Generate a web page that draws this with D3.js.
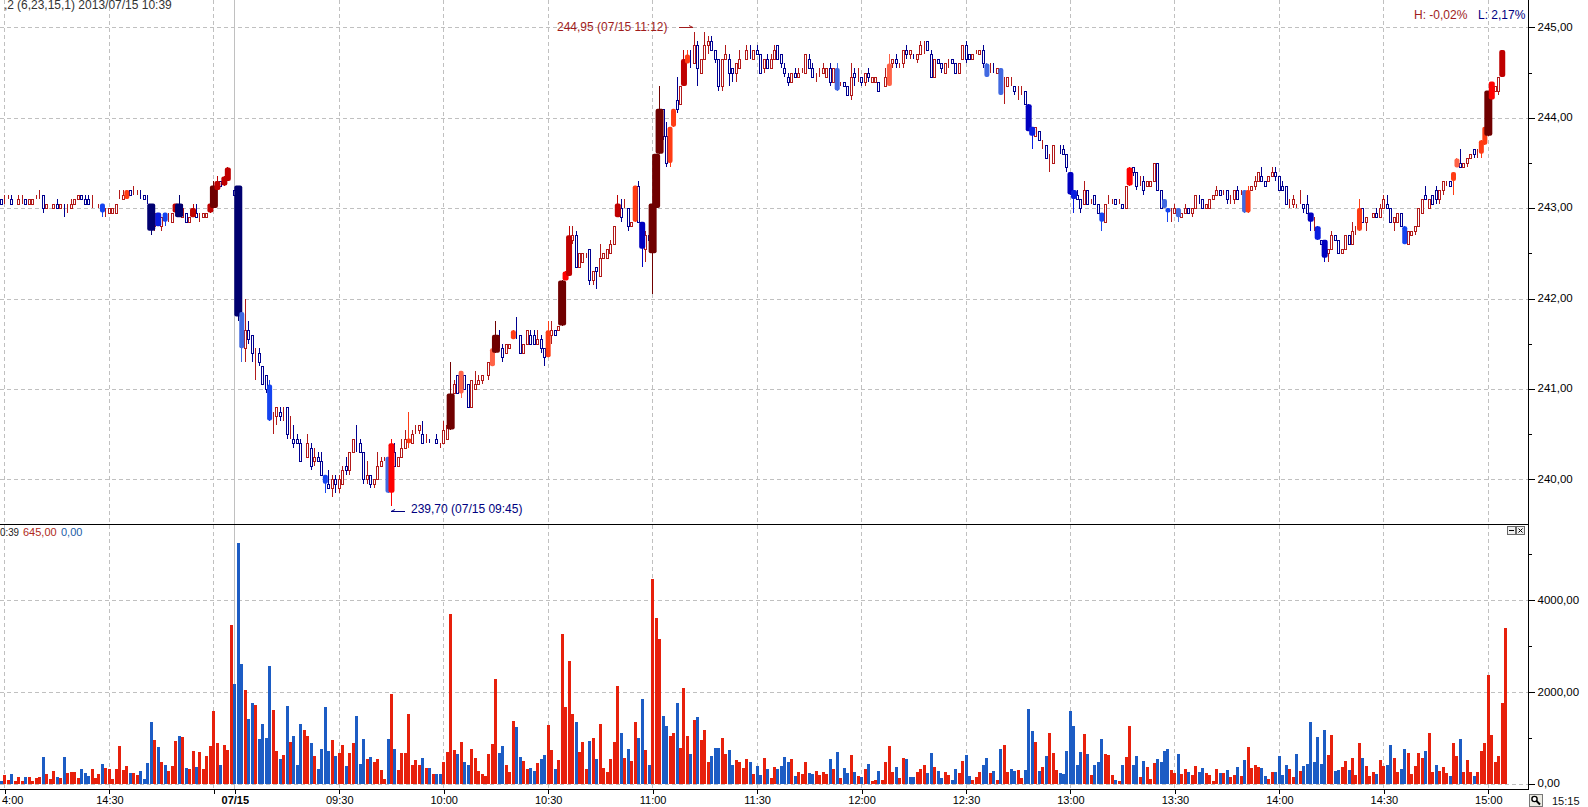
<!DOCTYPE html>
<html lang="en">

<head>
    <meta charset="UTF-8">
    <title>1 minute candles with volume</title>
    <script src="https://d3js.org/d3.v7.min.js"></script>
    <style>
        body {
            margin: 0;
            background-color: white;
            overflow: hidden;
        }

        svg {
            display: block;
        }

        text {
            font-family: 'Liberation Sans', Arial, sans-serif;
            font-size: 12px;
        }

        .grid {
            stroke: #c0c0c0;
            stroke-width: 1px;
            stroke-dasharray: 4 3;
            shape-rendering: crispEdges;
        }

        .axis path,
        .axis line {
            stroke: black;
            shape-rendering: crispEdges;
        }

        .axis text {
            fill: black;
            font-family: 'Liberation Sans', Arial, sans-serif;
            font-size: 11.5px;
        }

        .time-axis text {
            font-size: 11px;
        }

        .small-caption {
            font-size: 11px;
        }
    </style>
</head>

<body>
    <svg></svg>

    <script>
        const opens = [
            243.1,243.1,243.1,243.1,243.05,243.05,243.1,243.1,243.05,243.05,
            243.1,243.1,243.15,243,243.05,243,243.05,243,243,243,
            243,243.05,243.1,243.15,243.1,243.1,243.05,243.05,243.05,243.05,
            242.95,242.95,242.95,242.95,243.15,243.1,243.1,243.2,243.2,243.2,
            243.15,243.15,243.1,243.05,242.8,242.95,242.8,242.95,242.9,242.85,
            242.95,243.05,242.9,242.95,242.85,242.9,242.95,242.9,242.9,242.9,
            242.95,243,243.2,243.3,243.25,243.3,243.45,243.2,243.25,241.85,
            241.45,241.65,241.6,241.4,241.4,241.25,241.15,241.05,240.65,240.7,
            240.75,240.75,240.8,240.5,240.45,240.45,240.4,240.2,240.25,240.35,
            240.2,240.25,240.2,240.05,239.95,239.9,240,239.9,239.95,240.15,
            240.1,240.3,240.4,240.4,240.3,240,240.05,239.95,240,240.15,
            240.2,240.25,239.85,240.3,240.15,240.25,240.35,240.4,240.4,240.55,
            240.55,240.5,240.45,240.4,240.4,240.45,240.4,240.4,240.45,240.55,
            240.95,241.15,240.95,241.15,241.05,240.8,241,241.05,241.1,241.15,
            241.15,241.25,241.4,241.55,241.45,241.4,241.45,241.55,241.6,241.6,
            241.4,241.5,241.6,241.6,241.5,241.55,241.45,241.35,241.6,241.65,
            241.65,241.7,242.2,242.25,242.65,242.7,242.35,242.4,242.5,242.55,
            242.2,242.35,242.25,242.45,242.45,242.5,242.6,242.9,243,243,
            243,242.8,242.85,243.25,242.85,242.55,242.7,242.5,243,243.6,
            244.1,243.8,243.5,243.9,244.2,244.15,244.35,244.6,244.65,244.6,
            244.8,244.5,244.65,244.8,244.85,244.75,244.65,244.35,244.65,244.65,
            244.55,244.5,244.55,244.65,244.65,244.7,244.65,244.75,244.7,244.55,
            244.65,244.55,244.65,244.8,244.7,244.55,244.45,244.4,244.5,244.45,
            244.5,244.5,244.65,244.55,244.5,244.5,244.5,244.45,244.55,244.4,
            244.55,244.4,244.4,244.35,244.25,244.5,244.45,244.45,244.4,244.5,
            244.4,244.4,244.4,244.3,244.35,244.35,244.6,244.65,244.6,244.6,
            244.75,244.7,244.7,244.65,244.7,244.85,244.85,244.7,244.45,244.65,
            244.6,244.5,244.6,244.65,244.6,244.5,244.65,244.8,244.7,244.65,
            244.7,244.7,244.75,244.6,244.55,244.55,244.5,244.55,244.35,244.35,
            244.4,244.35,244.3,244.3,244.3,244.15,243.9,243.8,243.85,243.75,
            243.7,243.55,243.5,243.7,243.65,243.65,243.6,243.4,243.2,243.15,
            243.1,243.05,243.2,243.1,243.15,243.05,242.95,242.85,243.05,243.1,
            243.1,243.1,243.05,243,243.25,243.45,243.4,243.3,243.3,243.25,
            243.25,243.3,243.5,243.2,243.1,243,242.95,242.95,243,242.9,
            242.95,243,242.95,243,243.1,243.1,243,243,243.1,243.15,
            243.2,243.2,243.2,243.1,243.1,243.2,243.2,243.2,242.95,243.2,
            243.25,243.3,243.35,243.3,243.3,243.35,243.4,243.35,243.25,243.25,
            243.05,243.05,243.05,243.05,243.05,243.05,242.95,242.85,242.8,242.65,
            242.65,242.5,242.55,242.7,242.65,242.5,242.55,242.7,242.6,242.75,
            242.75,243,242.85,242.9,242.9,242.95,242.9,243,243.05,243,
            242.85,242.85,242.95,242.8,242.6,242.7,242.75,242.8,242.95,243.15,
            243,243.15,243.2,243.1,243.2,243.3,243.3,243.3,243.45,243.5,
            243.45,243.5,243.55,243.65,243.6,243.6,243.7,243.8,244.2,244.3,
            244.3,244.45,244.9
        ];
        const closes = [
            243.05,243.1,243.1,243.05,243.05,243.1,243.1,243.05,243.1,243.1,
            243.1,243.1,243,243.05,243.05,243.05,243,243.05,243,243,
            243.05,243.1,243.15,243.1,243.05,243.05,243.05,243.05,243.05,242.95,
            242.95,243,243,243.05,243.15,243.15,243.2,243.15,243.2,243.2,
            243.15,243.1,243.1,242.75,242.95,242.8,242.9,242.85,242.9,242.95,
            243.05,242.9,243,242.85,242.9,243,242.9,242.9,242.95,242.95,
            243.05,243.25,243.3,243.25,243.35,243.45,243.45,243.15,241.8,241.45,
            241.65,241.55,241.4,241.4,241.3,241.05,241,240.65,240.65,240.8,
            240.7,240.75,240.5,240.5,240.4,240.4,240.2,240.2,240.4,240.15,
            240.25,240.2,240.05,239.95,239.9,240,239.95,240,240.1,240.1,
            240.3,240.45,240.4,240.3,240,240.05,239.95,240,240.15,240.2,
            240.2,239.85,240.4,240.15,240.25,240.35,240.45,240.45,240.5,240.55,
            240.6,240.4,240.45,240.4,240.4,240.4,240.4,240.55,240.6,240.95,
            241.05,240.95,241.2,241,240.8,241.1,241.05,241.1,241.15,241.15,
            241.3,241.45,241.6,241.55,241.35,241.5,241.5,241.65,241.6,241.4,
            241.5,241.65,241.5,241.5,241.55,241.45,241.35,241.65,241.65,241.6,
            241.7,242.2,242.3,242.7,242.7,242.35,242.5,242.5,242.5,242.2,
            242.3,242.3,242.45,242.5,242.55,242.6,242.8,243.05,242.9,243,
            242.8,242.85,243.25,242.85,242.55,242.7,242.65,243.05,243.6,244.1,
            243.8,243.5,243.9,244.1,244.1,244.35,244.65,244.7,244.65,244.8,
            244.55,244.65,244.8,244.85,244.75,244.65,244.35,244.65,244.7,244.5,
            244.5,244.6,244.65,244.65,244.75,244.7,244.75,244.7,244.5,244.65,
            244.55,244.65,244.75,244.65,244.6,244.5,244.4,244.5,244.45,244.5,
            244.5,244.7,244.55,244.45,244.5,244.5,244.55,244.55,244.4,244.55,
            244.3,244.4,244.35,244.25,244.45,244.45,244.45,244.4,244.5,244.45,
            244.45,244.45,244.3,244.3,244.45,244.6,244.65,244.6,244.6,244.75,
            244.7,244.75,244.7,244.7,244.8,244.85,244.75,244.45,244.65,244.6,
            244.55,244.6,244.6,244.6,244.5,244.6,244.8,244.65,244.65,244.7,
            244.7,244.75,244.6,244.45,244.55,244.55,244.55,244.25,244.35,244.45,
            244.4,244.3,244.3,244.3,244.15,243.85,243.8,243.9,243.75,243.75,
            243.55,243.55,243.7,243.7,243.65,243.6,243.45,243.15,243.1,243.1,
            243,243.2,243.05,243.1,243.05,242.95,242.85,243.05,243.05,243.1,
            243.05,243.1,243,243.25,243.45,243.4,243.25,243.3,243.2,243.3,
            243.3,243.5,243.2,243,243,242.95,242.95,243,242.9,242.95,
            243,242.95,243,243.15,243.1,243,243.05,243.1,243.15,243.2,
            243.15,243.2,243.1,243.1,243.2,243.1,243.2,242.95,243.2,243.25,
            243.3,243.4,243.3,243.25,243.35,243.4,243.35,243.2,243.2,243.05,
            243.05,243.1,243.05,243.05,243,242.95,242.85,242.85,242.65,242.6,
            242.45,242.55,242.7,242.65,242.5,242.55,242.7,242.6,242.75,242.75,
            243,242.85,242.9,242.9,242.95,242.9,243,243.1,243,242.85,
            242.9,242.95,242.8,242.6,242.75,242.75,242.8,243,243.1,243.1,
            243.1,243.05,243.1,243.2,243.3,243.3,243.25,243.4,243.55,243.45,
            243.5,243.55,243.6,243.6,243.6,243.75,243.9,244.3,244.4,244.35,
            244.45,244.75,244.9
        ];
        const highs = [
            243.1,243.15,243.15,243.15,243.05,243.15,243.15,243.1,243.1,243.1,
            243.15,243.2,243.15,243.05,243.05,243.05,243.1,243.05,243.05,243.05,
            243.1,243.1,243.15,243.15,243.15,243.15,243.15,243.05,243.05,243.05,
            243,243,243,243.05,243.2,243.2,243.2,243.2,243.25,243.2,
            243.2,243.15,243.15,243.05,242.95,242.95,242.9,242.95,242.95,242.95,
            243.05,243.15,243.05,242.95,242.9,243.05,243.05,242.95,242.95,242.95,
            243.05,243.3,243.35,243.3,243.35,243.45,243.45,243.2,243.25,241.85,
            242,241.75,241.6,241.45,241.45,241.25,241.15,241.1,240.75,240.8,
            240.8,240.8,240.8,240.7,240.6,240.5,240.45,240.2,240.5,240.4,
            240.35,240.3,240.3,240.05,240.1,240.05,240.05,240.05,240.15,240.25,
            240.3,240.45,240.6,240.45,240.3,240.2,240.05,240,240.3,240.25,
            240.25,240.25,240.45,240.4,240.25,240.45,240.55,240.75,240.55,240.6,
            240.6,240.65,240.5,240.45,240.4,240.5,240.4,240.65,240.6,241.3,
            241.1,241.15,241.2,241.15,241.05,241.1,241.2,241.15,241.15,241.15,
            241.3,241.45,241.75,241.65,241.5,241.5,241.5,241.65,241.8,241.6,
            241.5,241.65,241.65,241.65,241.65,241.6,241.45,241.75,241.75,241.65,
            241.7,242.2,242.3,242.8,242.8,242.75,242.5,242.5,242.5,242.55,
            242.3,242.35,242.6,242.5,242.55,242.65,242.8,243.15,243.1,243.1,
            243,242.85,243.25,243.3,242.85,242.75,242.7,243.05,243.6,244.35,
            244.1,243.95,243.9,244.1,244.45,244.35,244.75,244.75,244.75,244.95,
            244.85,244.65,244.95,244.9,244.9,244.75,244.65,244.65,244.8,244.7,
            244.55,244.6,244.75,244.65,244.8,244.8,244.75,244.8,244.7,244.65,
            244.7,244.7,244.8,244.8,244.7,244.6,244.5,244.5,244.55,244.55,
            244.55,244.7,244.7,244.6,244.5,244.55,244.6,244.55,244.6,244.55,
            244.6,244.4,244.4,244.35,244.6,244.55,244.55,244.45,244.5,244.55,
            244.45,244.45,244.4,244.3,244.55,244.7,244.65,244.7,244.6,244.75,
            244.8,244.75,244.7,244.7,244.85,244.85,244.85,244.75,244.65,244.65,
            244.6,244.6,244.65,244.65,244.6,244.6,244.8,244.85,244.7,244.7,
            244.75,244.75,244.8,244.6,244.6,244.6,244.55,244.55,244.45,244.45,
            244.45,244.35,244.35,244.35,244.3,244.15,243.9,243.9,243.85,243.75,
            243.7,243.6,243.7,243.7,243.7,243.7,243.6,243.4,243.2,243.2,
            243.1,243.3,243.2,243.1,243.15,243.05,242.95,243.05,243.15,243.1,
            243.1,243.1,243.05,243.25,243.45,243.45,243.4,243.35,243.35,243.3,
            243.3,243.5,243.5,243.2,243.1,243,243,243.05,243,242.95,
            243.05,243,243,243.15,243.15,243.1,243.05,243.1,243.15,243.25,
            243.2,243.2,243.2,243.15,243.2,243.25,243.2,243.2,243.25,243.25,
            243.35,243.4,243.45,243.3,243.35,243.45,243.45,243.35,243.3,243.25,
            243.1,243.15,243.05,243.2,243.05,243.15,242.95,242.9,242.8,242.65,
            242.65,242.55,242.75,242.7,242.65,242.55,242.7,242.7,242.85,242.8,
            243.1,243,242.9,242.9,242.95,243,243.05,243.15,243.15,243,
            242.9,242.95,242.95,242.8,242.75,242.75,242.8,243,243.1,243.25,
            243.1,243.15,243.25,243.2,243.3,243.3,243.3,243.4,243.55,243.65,
            243.5,243.55,243.6,243.65,243.65,243.75,243.9,244.3,244.4,244.35,
            244.45,244.75,244.9
        ];
        const lows = [
            243.05,243.05,243.1,243.05,243.05,243.05,243.05,243.05,243.05,243.05,
            243.1,243.1,242.95,243,243.05,243,243,243,242.9,242.95,
            243,243.05,243.1,243.1,243.05,243.05,243,243.05,243,242.9,
            242.9,242.95,242.95,242.95,243.1,243.1,243.1,243.15,243.15,243.15,
            243.1,243.1,243.05,242.7,242.75,242.8,242.75,242.8,242.85,242.85,
            242.95,242.9,242.9,242.85,242.85,242.9,242.9,242.85,242.9,242.9,
            242.95,243,243.2,243.25,243.25,243.3,243.45,243.15,241.75,241.3,
            241.3,241.5,241.3,241.1,241.25,241.05,240.95,240.65,240.5,240.6,
            240.65,240.65,240.45,240.45,240.35,240.4,240.2,240.2,240.25,240.1,
            240.15,240.2,240.05,239.85,239.9,239.8,239.85,239.85,239.95,240.05,
            240.05,240.3,240.3,240.3,239.95,239.95,239.9,239.9,240,240.15,
            240.2,239.85,239.7,240.15,240.15,240.25,240.35,240.35,240.4,240.5,
            240.5,240.4,240.4,240.4,240.4,240.4,240.35,240.4,240.45,240.55,
            240.95,240.95,240.9,241,240.8,240.8,241,241.05,241.05,241.15,
            241.1,241.25,241.4,241.45,241.3,241.4,241.45,241.55,241.55,241.4,
            241.4,241.5,241.5,241.5,241.5,241.4,241.25,241.35,241.5,241.6,
            241.65,241.7,242.2,242.25,242.6,242.35,242.35,242.4,242.45,242.15,
            242.15,242.1,242.25,242.45,242.45,242.5,242.6,242.9,242.85,243,
            242.75,242.8,242.85,242.85,242.35,242.4,242.65,242.05,243,243.6,
            243.75,243.45,243.45,243.9,244.05,244.15,244.35,244.6,244.55,244.6,
            244.35,244.5,244.65,244.7,244.75,244.6,244.3,244.3,244.65,244.35,
            244.4,244.4,244.55,244.65,244.65,244.65,244.65,244.7,244.5,244.5,
            244.55,244.55,244.65,244.65,244.55,244.45,244.35,244.4,244.45,244.45,
            244.5,244.5,244.55,244.45,244.4,244.45,244.5,244.45,244.35,244.4,
            244.3,244.35,244.35,244.25,244.2,244.35,244.4,244.35,244.35,244.4,
            244.4,244.4,244.3,244.3,244.35,244.35,244.55,244.55,244.55,244.55,
            244.65,244.65,244.65,244.6,244.7,244.7,244.75,244.45,244.45,244.6,
            244.5,244.5,244.55,244.6,244.5,244.5,244.65,244.6,244.65,244.65,
            244.7,244.7,244.55,244.45,244.5,244.5,244.5,244.25,244.15,244.35,
            244.35,244.25,244.2,244.25,244.15,243.85,243.65,243.8,243.75,243.65,
            243.55,243.4,243.5,243.7,243.6,243.6,243.4,243.15,242.95,243.1,
            242.95,243.05,243.05,243.05,243.05,242.95,242.75,242.85,243.05,243.05,
            243.05,243.05,243,243,243.25,243.35,243.2,243.25,243.15,243.25,
            243.25,243.3,243.2,243,243,242.85,242.85,242.95,242.85,242.9,
            242.95,242.95,242.9,243,243.05,243,243,243,243.1,243.15,
            243.15,243.15,243.05,243.05,243.05,243.1,243.15,242.95,242.95,243.2,
            243.2,243.3,243.3,243.25,243.3,243.35,243.3,243.2,243.2,243.05,
            243,243,243,243.05,242.95,242.95,242.75,242.75,242.65,242.6,
            242.4,242.4,242.55,242.65,242.5,242.5,242.55,242.6,242.6,242.7,
            242.75,242.85,242.75,242.9,242.9,242.9,242.9,243,243,242.85,
            242.75,242.85,242.8,242.6,242.6,242.7,242.7,242.8,242.95,243.1,
            243,243.05,243.05,243.05,243.15,243.25,243.25,243.15,243.45,243.45,
            243.45,243.45,243.55,243.55,243.55,243.55,243.7,243.8,244.15,244.3,
            244.25,244.45,244.9
        ];
        const volumes = [
            65,196,87,218,65,150,65,150,150,65,
            130,150,590,218,110,283,150,130,590,240,
            262,262,130,327,240,174,327,130,218,436,
            349,327,110,327,829,305,392,240,240,196,
            283,110,458,1352,960,807,480,414,283,392,
            938,1047,1025,349,327,720,370,698,327,610,
            829,1592,894,414,850,741,3468,2181,5256,2617,
            2050,1417,1766,1723,981,1308,1003,2573,1614,720,
            545,632,1701,916,1047,414,1308,1177,1047,894,
            610,327,763,1679,720,960,610,676,850,392,
            676,894,1483,436,981,545,589,480,545,305,
            110,981,1963,763,305,676,676,1527,414,523,
            414,567,349,349,218,218,218,480,698,3708,
            742,654,916,480,414,763,567,284,218,174,
            654,872,2290,676,829,414,262,1374,1243,589,
            502,327,349,284,458,545,632,1287,742,327,
            523,3271,1679,2682,1527,1352,698,916,327,938,
            1003,545,1309,349,262,545,916,2137,1112,567,
            763,502,1352,1003,1854,742,414,4471,3620,3162,
            1483,1265,1047,1112,1767,785,2094,1047,654,1396,
            1461,960,1178,480,611,785,785,1003,654,742,
            414,523,480,349,545,480,218,393,196,567,
            327,131,371,327,393,589,480,545,174,262,
            218,480,240,218,283,196,262,218,545,327,
            698,131,349,240,632,262,174,153,327,436,
            65,87,283,87,480,829,262,371,131,567,
            545,153,153,262,327,414,240,676,371,283,
            131,262,196,87,327,240,502,632,174,87,
            153,262,414,567,240,283,87,763,850,262,
            327,283,305,131,305,1636,1156,916,283,371,
            611,1112,676,305,240,218,720,1592,1265,414,
            698,1090,654,196,414,480,981,654,632,196,
            87,65,414,589,1265,414,611,153,502,371,
            109,458,545,480,720,763,305,240,654,218,
            327,262,196,393,262,349,240,196,65,327,
            240,240,305,153,196,370,174,523,807,349,
            414,370,349,174,109,262,262,611,196,414,
            327,153,654,283,393,436,1352,480,1025,436,
            1178,632,1069,283,305,370,502,305,567,196,
            894,567,393,174,262,218,523,393,414,850,
            567,262,327,763,676,218,393,676,567,720,
            1112,262,414,283,370,240,174,894,611,981,
            262,523,262,174,262,720,894,2377,1069,480,
            610,1767,3402
        ];
        // r = buying volume, b = selling volume
        const volumeSides = [
            'brrbrrrbrr', 'rrbrrrbrbr', 'rrrbbbrrrb', 'rrrrrrrbrr', 'bbbbrbrbrr',
            'rbrbrrbrrr', 'rrrbrrrbbb', 'rbbrbbbbrr', 'brbrbbbrrb', 'rbbbbrbrrb',
            'rrbbbrbrrr', 'rbrbrrrrrr', 'rbrbrbbrrr', 'rbrbbrrrrr', 'rrrbbrrrbb',
            'rrbbrbbrrb', 'rrrrrbrrrb', 'rbrrrrrrbr', 'brrbbrbrrr', 'bbrrbrrrbr',
            'brrrbbbrrb', 'brrrrbrbbr', 'brrbbbbrbr', 'rrbbrrrrbr', 'brbbrbrbrb',
            'rrbrrrrbrr', 'bbbrrrbbrb', 'brrbbrrbbr', 'rrbbrbrbrr', 'bbrrbbbrbr',
            'brrrbbbbbb', 'brbrbbbrrr', 'brbrrbbrbr', 'rrbbbbrrbr', 'rbrrbbrrrr',
            'brbrrbrbrr', 'rrbbrrbbbb', 'rrbrbbbbbb', 'brrbbrrbrr', 'rbrrrbrrbb',
            'rrbbrrrrrb', 'rrbrrrbrrb', 'rrrbrrrrrr', 'rrr'
        ].join('');

        // candles that are not drawn hollow, by weight class
        const heavyCandles = [
            [69, 111, 132, 141, 240, 255, 283, 287, 334, 338, 357, 418],
            [29, 36, 47, 77, 93, 117, 147, 157, 182, 192, 193, 197, 316, 335, 358, 390, 403, 417, 425, 426],
            [45, 112, 162, 296, 308, 324, 378, 428],
            [50, 55, 60, 62, 64, 65, 163, 177, 184, 196, 295, 307, 376, 380, 431],
            [43, 51, 61, 68, 129, 142, 161, 187, 188, 189, 427]
        ];
        // open == close candles that are still coloured as down
        const flatDown = [18, 40, 42, 102, 123, 124, 143, 148, 198, 215, 262, 285, 304, 344];

        const timeTicks = [1, 31, 61, 67, 97, 127, 157, 187, 217, 247, 277, 307, 337, 367, 397, 427];
        const timeLabels = ['4:00', '14:30', '', '07/15', '09:30', '10:00', '10:30', '11:00', '11:30',
            '12:00', '12:30', '13:00', '13:30', '14:00', '14:30', '15:00'];
        const sessionStart = 67;
        const priceTicks = [240, 241, 242, 243, 244, 245];
        const priceMinorTicks = [240.5, 241.5, 242.5, 243.5, 244.5];
        const volumeTicks = [0, 2000, 4000];
        const volumeMinorTicks = [1000, 3000, 5000];

        const width = 1588;
        const height = 807;
        const axisX = 1528;
        const topPanelEnd = 524;
        const bottomAxisY = 789;

        const xScale = d3.scaleLinear().domain([0, 432]).range([1, 1 + 432 * 3.482]);
        const yPrice = d3.scaleLinear().domain([240, 245]).range([479.3, 27.3]);
        const yVolume = d3.scaleLinear().domain([0, 4000]).range([784, 600.3]);
        const snap = v => Math.round(v);

        const heatUp = d3.scaleOrdinal([1, 2, 3, 4, 5], ['#ff6347', '#ff3c14', '#ff0000', '#bf0000', '#700000']);
        const heatDown = d3.scaleOrdinal([1, 2, 3, 4, 5], ['#4169e1', '#1444f0', '#0a1ee0', '#0000c0', '#000070']);
        const heatWidth = d3.scaleOrdinal([1, 2, 3, 4, 5], [5, 5, 6, 6, 8]);

        const candles = opens.map((open, i) => {
            let heat = 0;
            heavyCandles.forEach((list, k) => { if (list.includes(i)) heat = k + 1; });
            const down = closes[i] < open || flatDown.includes(i);
            return { i, open, close: closes[i], high: highs[i], low: lows[i], heat, down };
        });

        const svg = d3.select('svg').attr('width', width).attr('height', height);

        // grids
        const gridG = svg.append('g');
        gridG.selectAll('.vgrid')
            .data(timeTicks.filter(t => t !== sessionStart))
            .enter().append('line')
            .attr('class', 'grid')
            .attr('x1', d => snap(xScale(d)) + 0.5)
            .attr('x2', d => snap(xScale(d)) + 0.5)
            .attr('y1', 0)
            .attr('y2', bottomAxisY);
        gridG.selectAll('.hgrid-price')
            .data(priceTicks)
            .enter().append('line')
            .attr('class', 'grid')
            .attr('x1', 0)
            .attr('x2', axisX)
            .attr('y1', d => snap(yPrice(d)) + 0.5)
            .attr('y2', d => snap(yPrice(d)) + 0.5);
        gridG.selectAll('.hgrid-volume')
            .data(volumeTicks)
            .enter().append('line')
            .attr('class', 'grid')
            .attr('x1', 0)
            .attr('x2', axisX)
            .attr('y1', d => snap(yVolume(d)) + 0.5)
            .attr('y2', d => snap(yVolume(d)) + 0.5);
        gridG.append('line')
            .attr('x1', snap(xScale(sessionStart)) + 0.5)
            .attr('x2', snap(xScale(sessionStart)) + 0.5)
            .attr('y1', 0)
            .attr('y2', bottomAxisY)
            .attr('stroke', '#c0c0c0')
            .attr('shape-rendering', 'crispEdges');

        // volume bars
        svg.append('g').selectAll('rect')
            .data(volumes)
            .enter().append('rect')
            .attr('x', (d, i) => snap(xScale(i)) - 1)
            .attr('width', 3)
            .attr('y', d => yVolume(d))
            .attr('height', d => yVolume(0) - yVolume(d))
            .attr('fill', (d, i) => volumeSides[i] === 'r' ? '#e7200c' : '#1c5cc4')
            .attr('shape-rendering', 'crispEdges');

        // candles: wicks, then hollow bodies, then the heavy ones on top
        const candleColor = d => d.down ? '#000090' : '#b21a1a';

        svg.append('g').selectAll('line')
            .data(candles)
            .enter().append('line')
            .attr('x1', d => snap(xScale(d.i)) + 0.5)
            .attr('x2', d => snap(xScale(d.i)) + 0.5)
            .attr('y1', d => yPrice(d.high))
            .attr('y2', d => yPrice(d.low))
            .attr('stroke', d => d.heat ? (d.down ? heatDown(d.heat) : heatUp(d.heat)) : candleColor(d))
            .attr('shape-rendering', 'crispEdges');

        svg.append('g').selectAll('rect')
            .data(candles.filter(d => !d.heat))
            .enter().append('rect')
            .attr('x', d => snap(xScale(d.i)) - 0.5)
            .attr('width', 2)
            .attr('y', d => snap(yPrice(Math.max(d.open, d.close))) + 0.5)
            .attr('height', d => Math.abs(snap(yPrice(d.open)) - snap(yPrice(d.close))))
            .attr('fill', 'white')
            .attr('stroke', candleColor)
            .attr('shape-rendering', 'crispEdges');

        svg.append('g').selectAll('rect')
            .data(candles.filter(d => d.heat))
            .enter().append('rect')
            .attr('x', d => xScale(d.i) + 0.5 - heatWidth(d.heat) / 2)
            .attr('width', d => heatWidth(d.heat))
            .attr('y', d => yPrice(Math.max(d.open, d.close)))
            .attr('height', d => Math.abs(yPrice(d.open) - yPrice(d.close)))
            .attr('rx', 2)
            .attr('fill', d => d.down ? heatDown(d.heat) : heatUp(d.heat));

        // axes
        const comma = d => d3.format('.2f')(d).replace('.', ',');

        const priceAxis = d3.axisRight(yPrice).tickValues(priceTicks).tickSize(6).tickFormat(comma);
        svg.append('g')
            .attr('class', 'axis')
            .attr('transform', `translate(${axisX + 0.5},0)`)
            .call(priceAxis)
            .call(g => g.select('.domain').remove())
            .call(g => g.selectAll('text').attr('dy', '0.25em'));
        svg.append('g')
            .attr('class', 'axis')
            .attr('transform', `translate(${axisX + 0.5},0)`)
            .call(d3.axisRight(yPrice).tickValues(priceMinorTicks).tickSize(3).tickFormat(''))
            .call(g => g.select('.domain').remove());

        const volumeAxis = d3.axisRight(yVolume).tickValues(volumeTicks).tickSize(6).tickFormat(comma);
        svg.append('g')
            .attr('class', 'axis')
            .attr('transform', `translate(${axisX + 0.5},0)`)
            .call(volumeAxis)
            .call(g => g.select('.domain').remove())
            .call(g => g.selectAll('text').attr('dy', '0.25em'));
        svg.append('g')
            .attr('class', 'axis')
            .attr('transform', `translate(${axisX + 0.5},0)`)
            .call(d3.axisRight(yVolume).tickValues(volumeMinorTicks).tickSize(3).tickFormat(''))
            .call(g => g.select('.domain').remove());

        const timeAxis = d3.axisBottom(xScale)
            .tickValues(timeTicks)
            .tickSize(4)
            .tickFormat((d, i) => timeLabels[i]);
        svg.append('g')
            .attr('class', 'axis time-axis')
            .attr('transform', `translate(0.5,${bottomAxisY + 0.5})`)
            .call(timeAxis)
            .call(g => g.select('.domain').remove())
            .call(g => g.selectAll('text')
                .attr('y', 7)
                .style('font-weight', d => d === sessionStart ? 'bold' : null))
            .call(g => g.selectAll('text')
                .filter(d => d === timeTicks[0])
                .attr('text-anchor', 'start')
                .attr('x', -3.5));

        // frame lines
        const frame = [
            [0, topPanelEnd, axisX, topPanelEnd],
            [0, bottomAxisY, axisX, bottomAxisY],
            [axisX, 0, axisX, bottomAxisY]
        ];
        svg.append('g').selectAll('line')
            .data(frame)
            .enter().append('line')
            .attr('x1', d => d[0])
            .attr('y1', d => d[1] + 0.5)
            .attr('x2', d => d[2] + 0.5)
            .attr('y2', d => d[3] + 0.5)
            .attr('transform', d => d[0] === axisX ? 'translate(0.5,-0.5)' : null)
            .attr('stroke', 'black')
            .attr('shape-rendering', 'crispEdges');

        // captions
        const caption = (x, y, str, color, anchor) => svg.append('text')
            .attr('x', x)
            .attr('y', y)
            .attr('fill', color)
            .attr('text-anchor', anchor || 'start')
            .text(str);

        caption(4, 9, ',2', '#333');
        caption(17, 9, '(6,23,15,1) 2013/07/15 10:39', '#333');
        caption(0, 536, '0:39', '#222').attr('class', 'small-caption')
            .attr('textLength', 19).attr('lengthAdjust', 'spacingAndGlyphs');
        caption(23, 536, '645,00', '#b02a1c').attr('class', 'small-caption');
        caption(61, 536, '0,00', '#1c5ca8').attr('class', 'small-caption');
        caption(557, 31, '244,95 (07/15 11:12)', '#a01c1c');
        caption(411, 513, '239,70 (07/15 09:45)', '#000080');
        caption(1414, 19, 'H: -0,02%', '#a01c1c');
        caption(1478, 19, 'L: 2,17%', '#000080');
        caption(1552, 805, '15:15', '#111').attr('class', 'small-caption');

        // high / low arrows
        const highArrow = d3.line()(
            [[679, 27.5], [693, 27.5], [689, 25.5]]);
        svg.append('path').attr('d', highArrow).attr('fill', 'none').attr('stroke', '#a01c1c');
        const lowArrow = d3.line()(
            [[405, 511.5], [391, 511.5], [395, 509.5]]);
        svg.append('path').attr('d', lowArrow).attr('fill', 'none').attr('stroke', '#000080');

        // panel buttons
        const buttons = svg.append('g').attr('shape-rendering', 'crispEdges');
        buttons.append('rect').attr('x', 1507.5).attr('y', 526.5).attr('width', 8).attr('height', 8)
            .attr('fill', '#eee').attr('stroke', '#666');
        buttons.append('rect').attr('x', 1516.5).attr('y', 526.5).attr('width', 8).attr('height', 8)
            .attr('fill', '#eee').attr('stroke', '#666');
        buttons.append('line').attr('x1', 1509).attr('x2', 1514).attr('y1', 530.5).attr('y2', 530.5).attr('stroke', 'black');
        buttons.append('path').attr('d', 'M1518.5,528.5L1522.5,532.5M1522.5,528.5L1518.5,532.5').attr('stroke', 'black')
            .attr('shape-rendering', 'auto');

        // zoom button
        const magnifier = svg.append('g');
        magnifier.append('rect').attr('x', 1529.5).attr('y', 794.5).attr('width', 13).attr('height', 12)
            .attr('fill', '#ecece4').attr('stroke', '#777').attr('shape-rendering', 'crispEdges');
        magnifier.append('circle').attr('cx', 1534.5).attr('cy', 799).attr('r', 2.6)
            .attr('fill', 'white').attr('stroke', 'black').attr('stroke-width', 1.4);
        magnifier.append('line').attr('x1', 1536.5).attr('y1', 801).attr('x2', 1540).attr('y2', 804.5)
            .attr('stroke', 'black').attr('stroke-width', 2);
    </script>
</body>

</html>
